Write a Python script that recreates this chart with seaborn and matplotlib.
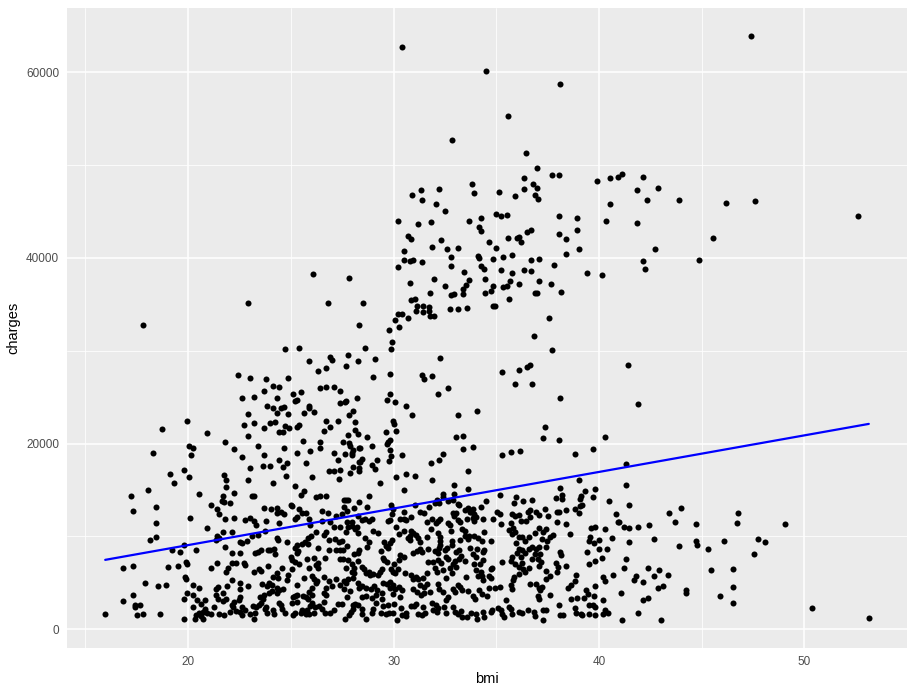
"""Scatter of bmi vs charges with a linear fit line, ggplot-style grey panel."""
import matplotlib
matplotlib.use("Agg")
import matplotlib.pyplot as plt
import pandas as pd
import seaborn as sns

# points, grouped by area of the panel
upper_points = [
    (17.78, 32760), (22.93, 35120), (26.08, 38240), (27.83, 37810), (26.81, 35120), (28.30, 32760),
    (30.40, 62650), (34.48, 60070), (38.12, 58670), (35.55, 55240), (32.83, 52660), (36.42, 51260),
    (36.96, 49650), (36.37, 48570), (37.73, 48890), (38.07, 48890), (39.92, 48250), (40.55, 48570),
    (40.94, 48680), (41.13, 49000), (41.83, 47280), (33.80, 47930), (33.90, 46960), (36.76, 47930),
    (36.96, 47500), (36.33, 47390), (36.87, 46740), (37.05, 46310), (35.11, 47070), (35.89, 46640),
    (30.89, 46740), (31.33, 47280), (31.38, 46200), (32.20, 47390), (32.05, 45810), (32.49, 45050),
    (30.21, 43980), (31.18, 43660), (31.81, 43870), (33.66, 43980), (34.24, 44300), (34.14, 43300),
    (34.24, 42870), (34.97, 44730), (35.21, 44510), (35.50, 44620), (38.07, 44510), (38.95, 44300),
    (40.36, 43980), (40.55, 45810), (41.87, 43760), (30.69, 42330), (30.84, 42010), (30.50, 40720),
    (32.30, 41900), (31.86, 41150), (32.59, 40940), (33.12, 41040), (34.63, 41690), (34.97, 41040),
    (35.55, 42120), (35.99, 42120), (36.08, 42230), (36.18, 41690), (36.47, 42770), (36.67, 42980),
    (38.07, 42550), (38.41, 42010), (38.95, 42980), (39.04, 40940), (38.41, 40400), (30.50, 39750),
    (30.79, 39640), (30.94, 39750), (30.21, 39000), (31.38, 39540), (32.78, 40080), (32.78, 39110),
    (34.09, 40190), (34.14, 39970), (34.24, 39110), (34.38, 38790), (34.82, 39860), (35.31, 40080),
    (35.74, 40300), (36.33, 38680), (36.67, 39750), (36.67, 38570), (37.10, 39860), (37.83, 39220),
    (39.39, 38360), (40.16, 38140), (30.79, 37270), (31.96, 37700), (33.42, 38460), (33.66, 37600),
    (32.49, 36960), (33.51, 37060), (33.36, 36640), (33.36, 36110), (32.78, 36000), (32.93, 36110),
    (31.76, 36210), (30.84, 35440), (31.04, 35550), (31.13, 34840), (31.08, 34300), (31.42, 34840),
    (31.42, 34200), (31.71, 34730), (31.71, 34300), (31.76, 33760), (31.96, 33760), (32.73, 34520),
    (33.12, 34520), (33.56, 34630), (34.43, 37700), (34.43, 36210), (34.72, 36430), (34.82, 36960),
    (35.21, 38680), (35.31, 36860), (35.50, 36960), (35.65, 37490), (35.74, 38360), (36.08, 37170),
    (35.60, 35550), (34.82, 34840), (34.92, 34840), (36.87, 36210), (36.96, 36210), (37.10, 37490),
    (37.64, 37170), (38.17, 36320), (37.54, 33540), (28.51, 35120), (30.06, 33330), (30.26, 32570),
    (30.21, 33970), (30.40, 33970), (30.69, 33540), (29.77, 32260), (47.39, 63840), (42.15, 48680),
    (42.88, 47500), (42.35, 46200), (43.90, 46200), (46.18, 45880), (47.59, 46100), (45.55, 42120),
    (42.74, 40940), (42.15, 39640), (42.25, 38790), (44.87, 39750), (52.59, 44510),
]

left_points = [
    (24.71, 30230), (25.39, 30340), (25.87, 28940), (26.31, 27860), (26.70, 28180), (26.89, 29370),
    (26.99, 29040), (27.77, 29580), (27.67, 28400), (28.25, 28940), (22.43, 27430), (23.01, 27100),
    (23.79, 27000), (24.85, 27100), (22.62, 24950), (23.20, 25060), (23.69, 25700), (24.13, 26240),
    (24.42, 26130), (24.32, 24950), (25.10, 25380), (25.29, 24740), (25.19, 24630), (25.49, 25600),
    (25.87, 24090), (25.87, 23870), (26.12, 23440), (25.63, 23340), (26.41, 26030), (26.70, 26130),
    (27.09, 26130), (27.38, 25700), (27.38, 24410), (27.62, 24520), (27.67, 24630), (28.20, 24950),
    (28.01, 23550), (27.82, 23120), (28.11, 22370), (28.11, 21500), (28.25, 21070), (27.77, 20970),
    (27.52, 20210), (27.86, 19780), (27.82, 20100), (28.01, 19350), (28.30, 19570), (27.62, 18920),
    (27.96, 19030), (27.96, 18810), (27.28, 18270), (27.09, 19030), (26.70, 22470), (26.60, 21400),
    (26.89, 21830), (27.28, 22470), (26.41, 20210), (26.41, 19570), (25.92, 19240), (25.73, 17950),
    (25.58, 20320), (25.29, 19030), (24.85, 23230), (24.65, 23980), (24.51, 23870), (24.32, 23340),
    (23.84, 24090), (24.13, 23870), (22.92, 23230), (22.72, 22040), (23.20, 22260), (23.69, 21720),
    (23.98, 22260), (24.22, 22370), (24.42, 21290), (24.61, 21290), (24.71, 21930), (24.90, 21720),
    (25.29, 21830), (25.39, 22040), (22.92, 20790), (23.40, 19700), (22.23, 19460), (21.80, 20210),
    (22.62, 18600), (23.01, 17410), (22.92, 16120), (23.69, 18810), (23.64, 17630), (23.98, 17630),
    (24.13, 15800), (24.42, 18270), (24.66, 19570), (24.61, 17520), (24.81, 17950), (24.76, 16550),
    (25.19, 15470), (25.49, 14500), (25.63, 14930), (26.02, 16440), (26.23, 14290), (26.41, 14400),
    (26.70, 14400), (26.84, 17090), (27.09, 17090), (27.33, 16230), (27.38, 17200), (27.57, 13970),
    (27.67, 13970), (27.77, 13970), (27.57, 13210), (27.72, 12780), (27.86, 16870), (28.01, 17520),
    (28.30, 18060), (28.30, 13750), (22.23, 14720), (23.10, 14400), (23.20, 14400), (21.74, 16660),
    (21.84, 16120), (21.84, 15370), (21.69, 14400), (21.65, 13860), (21.74, 13750), (22.04, 13640),
    (21.41, 13000), (21.50, 12460), (21.12, 13430), (20.53, 14610), (20.92, 21180), (21.80, 11920),
    (22.23, 12030), (22.77, 11810), (23.01, 12030), (23.20, 11700), (23.30, 11270), (23.69, 13100),
    (23.79, 11700), (24.03, 13000), (24.32, 13100), (24.32, 12560), (24.51, 12670), (24.66, 12460),
    (24.42, 11490), (24.99, 13430), (25.05, 13320), (25.19, 11920), (25.29, 12130), (25.39, 13000),
    (25.53, 12560), (25.73, 12560), (25.87, 11920), (25.92, 11270), (26.21, 10520), (26.50, 12780),
    (26.50, 11700), (26.79, 12560), (26.89, 11600), (27.09, 11060), (27.18, 12240), (27.47, 12460),
    (27.38, 11060), (27.72, 11600), (27.77, 11060), (27.96, 11600), (27.96, 11170), (28.11, 10840),
    (28.20, 11060), (28.25, 10410), (27.67, 10520), (28.25, 12200), (28.06, 13100), (26.70, 10520),
    (26.60, 10200), (25.97, 10050), (25.82, 9870), (25.29, 9120), (25.53, 9230), (25.68, 9440),
    (25.82, 9230), (25.19, 8800), (25.34, 8470), (25.29, 8260), (24.99, 7830), (25.05, 7500),
    (25.19, 7290), (25.39, 7070), (24.81, 9440), (24.32, 9840), (24.37, 9660), (23.74, 10630),
    (23.40, 10160), (23.11, 10090), (22.86, 9550), (22.62, 9330), (22.52, 9440), (21.80, 8900),
    (22.14, 8260), (21.50, 9870), (21.41, 10090), (21.36, 9660), (20.92, 10950), (21.69, 10520),
    (22.14, 10520), (22.52, 8260), (22.72, 7180), (22.77, 6960), (22.14, 7180), (22.33, 7180),
    (23.25, 8260), (23.40, 8360), (23.54, 8580), (23.89, 8580), (23.98, 8580), (24.17, 8690),
    (24.22, 8150), (23.89, 6860), (23.20, 6210), (23.45, 6530), (23.54, 6320), (24.32, 6100),
    (24.56, 6640), (24.85, 5890), (25.05, 6530), (24.13, 5670), (24.37, 5560), (24.81, 5350),
    (24.32, 4490), (24.61, 4380), (25.29, 4810), (25.63, 5560), (25.87, 6640), (26.02, 5780),
    (26.21, 6960), (26.31, 7180), (26.31, 6640), (25.78, 7610), (26.12, 7720), (26.31, 8800),
    (26.65, 7720), (26.84, 8580), (27.18, 8580), (27.38, 8580), (27.52, 8580), (27.38, 7610),
    (27.52, 7610), (27.77, 7500), (27.96, 7070), (28.06, 6640), (27.96, 6210), (27.67, 6640),
    (28.06, 6100), (28.25, 8260), (28.25, 7400), (28.06, 8150), (27.72, 9010), (27.33, 9440),
    (27.47, 9550), (27.13, 9760), (26.84, 9660), (26.12, 5460), (26.26, 5240), (26.60, 5670),
    (26.84, 5240), (27.18, 5460), (27.38, 4810), (27.57, 5240), (27.67, 5030), (27.77, 5460),
    (28.01, 5560), (28.25, 5030), (26.70, 4490), (26.99, 4700), (26.60, 3950), (26.70, 3730),
    (26.21, 5030), (26.02, 4490), (25.87, 4060), (26.02, 3730), (25.73, 3520), (25.82, 3300),
    (26.02, 2870), (26.16, 2440), (25.92, 2550), (25.78, 2120), (25.58, 3630), (25.29, 2980),
    (25.19, 3630), (25.53, 2120), (25.73, 1900), (26.36, 2550), (26.50, 2230), (26.60, 2980),
    (26.89, 1800), (26.65, 1800), (27.09, 2120), (27.28, 2760), (27.47, 2760), (27.72, 3520),
    (27.57, 4380), (27.86, 4160), (28.01, 2660), (28.11, 2760), (27.91, 1900), (28.01, 2230),
    (27.62, 1150), (28.25, 2660), (27.82, 1580), (26.12, 1800), (25.87, 1690), (25.73, 1690),
    (25.19, 1800), (25.10, 1580), (25.49, 1800), (24.71, 1800), (24.17, 1690), (24.13, 2120),
    (23.74, 2230), (23.84, 1800), (23.79, 2440), (23.25, 1800), (23.20, 1150), (23.01, 1690),
    (23.54, 2870), (23.45, 2660), (23.30, 2440), (23.16, 2550), (23.64, 3300), (23.69, 3730),
    (23.50, 3520), (23.93, 3950), (24.08, 4160), (23.93, 5030), (24.08, 4810), (23.84, 4700),
    (23.59, 4920), (24.32, 3950), (24.42, 4270), (24.42, 2870), (24.51, 2660), (24.56, 2230),
    (25.10, 3520), (25.29, 3730), (25.05, 2870), (22.77, 2120), (22.62, 2440), (22.52, 1900),
    (22.33, 2010), (22.04, 1900), (22.62, 1580), (22.14, 2660), (22.23, 2980), (22.18, 2440),
    (22.52, 3520), (22.48, 3200), (21.84, 3300), (21.70, 3090), (21.46, 3300), (21.36, 3730),
    (21.70, 3950), (21.89, 4700), (22.14, 5350), (22.52, 5030), (22.52, 4380), (22.90, 4700),
    (21.36, 4380), (21.46, 4600), (21.12, 6640), (21.41, 7180), (21.84, 6210), (21.94, 6640),
    (20.40, 8580), (19.90, 7290), (19.95, 7070), (19.51, 6860), (19.03, 6750), (19.19, 8580),
    (19.61, 8360), (19.81, 9120), (20.24, 3730), (20.53, 4490), (20.24, 4810), (19.95, 3950),
    (19.81, 3300), (19.90, 5460), (19.85, 5670), (20.24, 2440), (20.44, 3200), (20.63, 2760),
    (20.83, 3200), (20.83, 2230), (20.73, 1900), (20.53, 1800), (20.39, 1580), (20.34, 1150),
    (20.63, 1470), (20.73, 1150), (20.92, 1800), (19.81, 1150), (21.12, 1690), (21.50, 1690),
    (21.75, 1580), (21.26, 2440), (18.64, 1690), (17.82, 1690), (17.52, 1580), (15.97, 1690),
    (16.84, 3090), (17.33, 3730), (17.43, 2660), (17.67, 2660), (17.43, 2440), (17.88, 5030),
    (18.54, 4700), (18.93, 4810), (16.84, 6640), (17.33, 6860), (18.14, 9660), (18.43, 9980),
    (18.43, 11490), (18.43, 13210), (18.04, 15040), (17.23, 14400), (17.33, 12780), (18.30, 19030),
    (18.74, 21610), (19.13, 16770), (19.32, 15800), (19.81, 17200), (20.05, 16440), (19.95, 22470),
    (20.05, 19780), (20.24, 19570), (20.15, 18810), (20.10, 12030),
]

centre_points = [
    (29.90, 30980), (29.85, 30230), (28.59, 30340), (29.08, 29150), (28.98, 27210), (29.81, 27540),
    (29.81, 25380), (29.66, 24740), (30.05, 24520), (30.58, 24090), (30.87, 23120), (31.36, 27430),
    (31.46, 27000), (31.89, 27320), (32.28, 29260), (32.14, 25380), (32.67, 26030), (33.11, 23120),
    (34.08, 23550), (33.02, 20750), (33.36, 20860), (33.36, 19460), (33.85, 19670), (32.38, 18920),
    (32.23, 18270), (31.80, 17950), (31.85, 16120), (31.02, 16550), (30.58, 16770), (30.39, 18810),
    (30.10, 16440), (30.49, 15040), (29.95, 22470), (30.00, 22150), (30.10, 21400), (29.61, 21290),
    (29.81, 20430), (29.71, 20210), (29.66, 20000), (29.81, 19350), (29.85, 18700), (29.76, 18170),
    (29.32, 15800), (28.93, 17730), (29.08, 17300), (29.18, 18270), (28.69, 20750), (28.93, 19780),
    (28.38, 19570), (28.33, 17410), (28.33, 17090), (28.48, 18380), (28.38, 18060), (28.78, 14400),
    (28.68, 13210), (35.28, 27750), (36.12, 27970), (35.93, 26460), (36.50, 28290), (36.65, 28500),
    (36.75, 26460), (36.84, 31630), (37.72, 30120), (38.11, 24950), (37.38, 21830), (37.28, 20640),
    (38.06, 20430), (40.29, 20750), (35.28, 18810), (35.73, 19140), (36.17, 19240), (38.83, 18920),
    (39.71, 19460), (33.64, 17090), (33.64, 15150), (32.96, 15580),
    (35.19, 14500), (35.97, 14290), (36.31, 13860), (36.75, 13970), (35.87, 13640), (38.11, 15260),
    (38.20, 14500), (38.20, 14070), (37.91, 14180), (39.03, 16120), (39.32, 14930), (39.13, 14400),
    (39.08, 14070), (39.18, 13430), (39.81, 15150), (39.71, 14290), (40.49, 13860), (38.40, 12890),
    (38.83, 13000), (39.03, 12570), (39.08, 13320), (37.96, 12670), (38.06, 12670), (37.38, 13000),
    (37.52, 12240), (36.94, 12670), (37.09, 12350), (36.55, 12670), (36.65, 12890), (36.65, 12130),
    (36.46, 11700), (35.78, 12460), (35.92, 12240), (36.12, 12350), (36.21, 11700), (35.73, 11490),
    (35.63, 10730), (35.83, 10950), (35.24, 11380), (35.19, 12460), (35.05, 12670), (34.85, 11920),
    (34.51, 13860), (34.37, 11920), (34.42, 10520), (34.03, 12130), (33.93, 11700), (33.84, 12030),
    (33.74, 12670), (33.88, 13000), (33.93, 12460), (33.45, 12890), (33.64, 13100), (33.79, 12670),
    (33.59, 11920), (33.25, 11600), (33.35, 10840), (33.45, 10630), (33.11, 11810), (33.06, 12560),
    (32.72, 11270), (32.77, 10630), (32.96, 12240), (32.67, 11490), (32.28, 11920), (32.18, 11700),
    (32.04, 11490), (31.89, 11920), (31.60, 11600), (31.80, 10840), (32.18, 10410), (31.26, 12670),
    (31.50, 12560), (31.70, 13210), (31.99, 13640), (32.09, 13970), (32.23, 13640), (32.38, 14610),
    (32.38, 14290), (32.67, 13860), (32.91, 13970), (32.96, 14610), (33.11, 13540), (33.20, 13430),
    (32.91, 12560), (34.27, 13210), (31.02, 13430), (30.83, 12130), (30.49, 11920), (30.58, 11810),
    (30.29, 11920), (30.49, 12670), (29.85, 13430), (29.95, 13000), (29.90, 12460), (29.81, 11810),
    (29.71, 11700), (30.10, 11060), (30.24, 10300), (30.68, 9870), (30.83, 10630), (30.92, 10410),
    (31.07, 10200), (31.21, 9870), (31.26, 9440), (30.78, 10090), (30.78, 9660), (30.49, 10630),
    (31.60, 9980), (31.26, 8620), (31.36, 8360), (31.65, 8690), (31.12, 8470), (30.92, 8260),
    (30.49, 7830), (30.29, 8040), (30.24, 7500), (30.00, 7070), (29.85, 6530), (30.05, 6100),
    (29.95, 6210), (30.19, 6530), (29.71, 8800), (29.81, 9330), (29.90, 9660), (29.51, 9440),
    (29.61, 9010), (29.37, 8470), (29.47, 7720), (29.51, 7500), (29.66, 7290), (29.42, 6530),
    (29.32, 6210), (29.22, 5890), (28.98, 6000), (28.83, 5890), (28.78, 6210), (28.48, 6750),
    (28.57, 6530), (28.67, 6100), (28.33, 4490), (28.48, 4700), (28.67, 4490), (28.88, 4380),
    (29.03, 4700), (29.18, 4270), (29.47, 5030), (29.66, 4920), (29.81, 5130), (29.95, 4810),
    (30.05, 4380), (29.81, 4490), (30.24, 4600), (30.39, 4270), (29.95, 3840), (30.29, 3520),
    (30.53, 6100), (30.83, 5890), (30.92, 5460), (31.07, 5670), (31.21, 5460), (31.41, 5560),
    (31.60, 6100), (31.26, 4810), (31.46, 4600), (31.60, 4920), (30.92, 4380), (31.12, 4060),
    (31.31, 3730), (31.46, 3950), (31.75, 4060), (32.14, 4920), (32.23, 4380), (32.38, 4060),
    (32.67, 3520), (32.57, 3200), (32.91, 4380), (33.01, 4060), (33.11, 4810), (33.25, 4600),
    (33.35, 4270), (33.54, 5670), (33.64, 4160), (33.84, 3630), (33.98, 3300), (34.17, 4270),
    (34.32, 3840), (34.56, 3630), (34.66, 4490), (34.75, 6530), (34.75, 5560), (34.66, 5780),
    (34.27, 6210), (34.32, 5780), (34.37, 5350), (34.03, 6430), (34.12, 5780), (33.93, 7070),
    (34.22, 7070), (34.37, 7500), (33.88, 8150), (34.03, 7830), (33.45, 7400), (33.30, 7930),
    (33.20, 7610), (33.01, 7400), (32.91, 7070), (33.06, 6750), (32.72, 6640), (32.86, 6100),
    (32.57, 7830), (32.67, 7610), (32.18, 7500), (32.33, 7180), (31.94, 7290), (31.99, 6640),
    (32.09, 6210), (32.38, 6430), (32.57, 5560), (31.65, 7290), (32.23, 8800), (32.18, 8260),
    (31.99, 8470), (32.28, 9980), (32.28, 9550), (32.28, 9120), (32.62, 8800), (32.52, 8580),
    (32.86, 9550), (32.86, 9120), (33.06, 8360), (33.20, 8580), (33.25, 9660), (33.45, 10090),
    (33.69, 10090), (33.64, 9760), (33.93, 10090), (34.12, 9870), (34.32, 9550), (34.42, 8580),
    (34.37, 8360), (34.75, 9550), (34.08, 8690), (33.74, 8800), (34.80, 6640), (34.95, 4490),
    (35.19, 4600), (35.29, 7290), (35.73, 7400), (35.92, 7070), (36.12, 6750), (35.78, 7830),
    (36.02, 8260), (36.12, 8690), (36.26, 8580), (36.21, 7830), (36.41, 8260), (36.75, 8900),
    (36.60, 8690), (35.97, 9330), (36.12, 9980), (36.26, 9980), (35.92, 10520), (35.78, 10300),
    (36.41, 9550), (36.60, 9980), (36.89, 10410), (37.09, 10950), (37.28, 10520), (37.43, 10840),
    (37.23, 9760), (37.48, 9550), (37.62, 9980), (37.77, 10200), (37.43, 8900), (37.09, 8900),
    (36.94, 8690), (37.14, 8150), (37.04, 7610), (37.18, 7290), (37.09, 6860), (36.89, 8150),
    (36.75, 7610), (36.31, 6530), (36.41, 6210), (36.60, 6640), (36.26, 7180), (36.12, 6000),
    (35.87, 5670), (35.83, 5350), (35.73, 4810), (35.78, 4380), (36.65, 4920), (36.94, 4920),
    (37.09, 4490), (37.23, 4600), (37.14, 4270), (37.04, 3630), (37.09, 3300), (37.43, 5460),
    (37.62, 5780), (37.43, 6320), (37.62, 3730), (38.01, 6750), (37.91, 7180), (37.96, 6210),
    (38.11, 8360), (38.16, 8040), (38.40, 6820), (38.50, 4490), (38.64, 4810), (38.85, 5240),
    (38.88, 5890), (38.64, 3300), (38.93, 3410), (39.27, 3410), (39.47, 3840), (39.42, 8360),
    (39.51, 7000), (39.56, 9980), (39.51, 9550), (39.61, 10950), (39.81, 11060), (39.76, 9330),
    (40.00, 9660), (39.81, 7400), (40.00, 8690), (40.15, 7720), (40.29, 10840), (40.39, 8690),
    (40.63, 9870), (40.83, 12460), (40.92, 11600), (40.68, 5890), (40.20, 5670), (40.29, 5240),
    (39.81, 4700), (39.76, 3630), (39.38, 4270), (40.19, 3200), (39.51, 2660), (39.71, 2660),
    (39.81, 2440), (39.51, 1690), (39.81, 1580), (39.13, 1690), (39.18, 1580), (38.83, 2330),
    (38.88, 1800), (38.06, 2660), (38.11, 1580), (38.25, 1580), (37.28, 2120), (37.43, 2120),
    (37.28, 1040), (36.84, 1900), (36.89, 1470), (36.55, 2120), (36.12, 1900), (36.26, 1800),
    (35.63, 2440), (35.73, 2230), (35.78, 1690), (35.49, 3200), (35.24, 2120), (35.29, 1690),
    (35.39, 1360), (35.10, 2330), (34.75, 1900), (34.80, 2120), (34.37, 1900), (34.42, 1360),
    (34.08, 1150), (34.03, 1690), (33.79, 1800), (33.59, 1360), (33.30, 2010), (33.35, 1360),
    (33.01, 1900), (33.11, 1690), (32.57, 1800), (32.91, 2440), (32.43, 2440), (32.18, 2330),
    (31.94, 2120), (32.09, 1900), (31.89, 2870), (32.04, 2660), (31.55, 1800), (31.36, 1580),
    (31.17, 1690), (31.41, 2440), (31.07, 2760), (30.83, 2550), (30.97, 2550), (30.58, 1800),
    (30.58, 1470), (30.39, 1580), (30.15, 1040), (30.34, 2330), (29.95, 1800), (29.76, 1800),
    (29.61, 1690), (29.37, 1800), (30.00, 2760), (29.71, 2660), (29.47, 2550), (29.42, 3300),
    (29.13, 2870), (28.98, 2230), (28.93, 1800), (28.67, 1150), (28.48, 2230), (28.45, 1690),
    (28.67, 3630), (28.93, 3410), (29.13, 3730), (29.42, 3950), (28.48, 3520), (40.44, 1800),
    (40.29, 2120), (40.20, 1690), (28.48, 11810), (28.63, 11920), (28.82, 11700), (28.93, 11920),
    (28.98, 10630), (29.22, 10410), (28.63, 9870), (28.78, 9440), (28.68, 8900), (28.33, 8580),
    (37.96, 11600), (38.40, 11380), (38.59, 10300),
]

right_points = [
    (41.43, 28460), (41.91, 24270), (41.33, 17820), (41.33, 15560), (41.47, 13410), (43.41, 12550),
    (43.99, 13090), (43.70, 11580), (40.97, 11580), (41.23, 11040), (41.47, 10930), (41.91, 11040),
    (42.44, 11260), (44.72, 11360), (46.76, 12550), (46.71, 11470), (49.04, 11360), (41.47, 9430),
    (42.68, 9750), (43.90, 8920), (44.72, 9540), (44.77, 9030), (45.31, 8600), (46.09, 9540),
    (47.54, 8060), (47.73, 9750), (48.06, 9430), (41.33, 7600), (41.23, 6560), (42.39, 6630),
    (42.93, 6340), (43.37, 5810), (42.65, 5700), (41.72, 5340), (41.81, 5700), (42.15, 5130),
    (45.46, 6340), (46.53, 6450), (41.08, 3950), (42.88, 4480), (43.12, 4700), (44.24, 4260),
    (44.24, 3950), (46.53, 4590), (45.89, 3620), (42.15, 3190), (42.39, 3400), (46.53, 2870),
    (41.91, 1800), (41.13, 1050), (43.03, 1050), (50.36, 2330), (53.12, 1180),
]

# end points of the linear fit line
fit_bmi = [15.96, 53.13]
fit_charges = [7480, 22120]

x_ticks = [20, 30, 40, 50]
x_minor = [15, 25, 35, 45]
y_ticks = [0, 20000, 40000, 60000]
y_minor = [10000, 30000, 50000]

df = pd.DataFrame(upper_points + left_points + centre_points + right_points,
                  columns=["bmi", "charges"])

sns.set_style("darkgrid", {"axes.facecolor": "#EBEBEB", "grid.color": "white"})
plt.rcParams["font.family"] = ["Liberation Sans", "DejaVu Sans"]

fig = plt.figure(figsize=(9.16, 6.94), dpi=100)
ax = fig.add_axes([67 / 916, 1 - 648 / 694, 840 / 916, 640 / 694])
ax.set_axisbelow(True)

sns.scatterplot(data=df, x="bmi", y="charges", color="black", s=19,
                linewidth=0, ax=ax, zorder=3)
sns.lineplot(x=fit_bmi, y=fit_charges, color="#0000FF", linewidth=1.6,
             ax=ax, zorder=4)

ax.set_xlim(14.10, 54.99)
ax.set_ylim(-2011, 66903)
ax.set_xticks(x_ticks)
ax.set_xticklabels([str(v) for v in x_ticks])
ax.set_yticks(y_ticks)
ax.set_yticklabels([str(v) for v in y_ticks])
ax.set_xticks(x_minor, minor=True)
ax.set_yticks(y_minor, minor=True)
ax.grid(which="major", color="white", linewidth=1.1)
ax.grid(which="minor", color="white", linewidth=0.55)
ax.tick_params(which="major", length=3.2, width=0.8, color="#333333",
               labelcolor="#4D4D4D", labelsize=8.45, pad=2.5)
ax.tick_params(which="minor", length=0)
for spine in ax.spines.values():
    spine.set_visible(False)

ax.set_xlabel("bmi", fontsize=10.5, color="black", labelpad=3)
ax.set_ylabel("charges", fontsize=10.5, color="black", labelpad=4)

fig.savefig("out.png", dpi=100)
